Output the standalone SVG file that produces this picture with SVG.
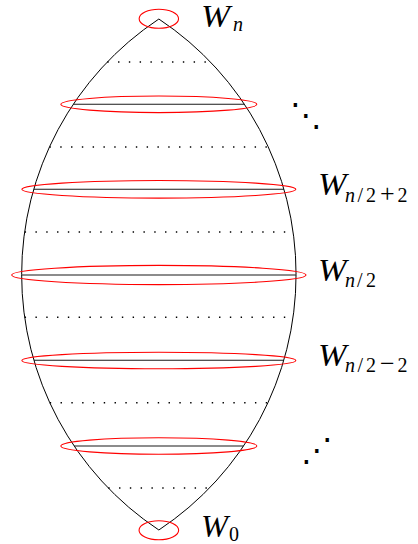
<svg xmlns="http://www.w3.org/2000/svg" width="418" height="544" viewBox="0 0 418 544">
<style>
.outline{fill:none;stroke:#000;stroke-width:1}
.lvl{stroke:#1a1a1a;stroke-width:1.1}
.dot{stroke:#000;stroke-width:1.4;stroke-dasharray:1.4 9.4}
.ring{fill:none;stroke:#ff0000;stroke-width:1.1}
.W{font-family:"Liberation Serif","Times New Roman",serif;font-size:31px;font-style:italic;fill:#000}
.s{font-family:"Liberation Serif","Times New Roman",serif;font-size:20px;fill:#000}
.si{font-style:italic}
.op{font-size:26px}
.dd{font-family:"DejaVu Sans",sans-serif;font-size:32px;fill:#000}
</style>
<rect width="418" height="544" fill="#fff"/>
<g id="lens">
<path class="outline" d="M158.85 19 A306.5 306.5 0 0 0 158.85 530 A306.5 306.5 0 0 0 158.85 19 Z"/>
</g>
<g id="dotted-levels">
<line class="dot" x1="107.25" y1="62" x2="210.45" y2="62"/>
<line class="dot" x1="49.45" y1="147" x2="268.25" y2="147"/>
<line class="dot" x1="24.65" y1="232" x2="293.05" y2="232"/>
<line class="dot" x1="24.65" y1="317.3" x2="293.05" y2="317.3"/>
<line class="dot" x1="49.75" y1="402.7" x2="267.95" y2="402.7"/>
<line class="dot" x1="108.25" y1="488" x2="209.45" y2="488"/>
</g>
<g id="solid-levels">
<line class="lvl" x1="73.25" y1="104.3" x2="244.45" y2="104.3"/>
<line class="lvl" x1="33.75" y1="189.3" x2="283.95" y2="189.3"/>
<line class="lvl" x1="21.65" y1="275" x2="296.05" y2="275"/>
<line class="lvl" x1="33.95" y1="360.3" x2="283.75" y2="360.3"/>
<line class="lvl" x1="74.15" y1="446" x2="243.55" y2="446"/>
</g>
<g id="W_n"><ellipse class="ring" cx="158.85" cy="18.8" rx="19.7" ry="9.5"/>
<text class="W" x="201" y="27" textLength="29" lengthAdjust="spacingAndGlyphs">W</text>
<text class="s si" x="233" y="30.5">n</text></g>
<g id="W_top2"><ellipse class="ring" cx="158.85" cy="104.3" rx="98" ry="8.3"/></g>
<g id="W_n2p2"><ellipse class="ring" cx="158.85" cy="189.3" rx="137" ry="8.8"/>
<text class="W" x="318" y="195.3" textLength="28.5" lengthAdjust="spacingAndGlyphs">W</text>
<text class="s" y="201.5"><tspan class="si" x="345">n</tspan><tspan x="357.5 366">/2</tspan><tspan class="op" x="380">+</tspan><tspan x="397.5">2</tspan></text></g>
<g id="W_n2"><ellipse class="ring" cx="158.85" cy="275" rx="147.2" ry="9.6"/>
<text class="W" x="318" y="280.7" textLength="28.5" lengthAdjust="spacingAndGlyphs">W</text>
<text class="s" y="286.5"><tspan class="si" x="345">n</tspan><tspan x="357 366">/2</tspan></text></g>
<g id="W_n2m2"><ellipse class="ring" cx="158.85" cy="360.5" rx="137" ry="8.3"/>
<text class="W" x="318" y="366" textLength="28.5" lengthAdjust="spacingAndGlyphs">W</text>
<text class="s" y="372"><tspan class="si" x="345">n</tspan><tspan x="357.5 366">/2</tspan><tspan class="op" x="380">−</tspan><tspan x="397.5">2</tspan></text></g>
<g id="W_bot2"><ellipse class="ring" cx="158.85" cy="446" rx="98" ry="8.3"/></g>
<g id="W_0"><ellipse class="ring" cx="158.85" cy="530.3" rx="19.8" ry="9.5"/>
<text class="W" x="201" y="536.5" textLength="27" lengthAdjust="spacingAndGlyphs">W</text>
<text class="s" x="229" y="541">0</text></g>
<g id="ellipses">
<text class="dd" x="290" y="126">⋱</text>
<text class="dd" x="301" y="461">⋰</text>
</g>
</svg>
